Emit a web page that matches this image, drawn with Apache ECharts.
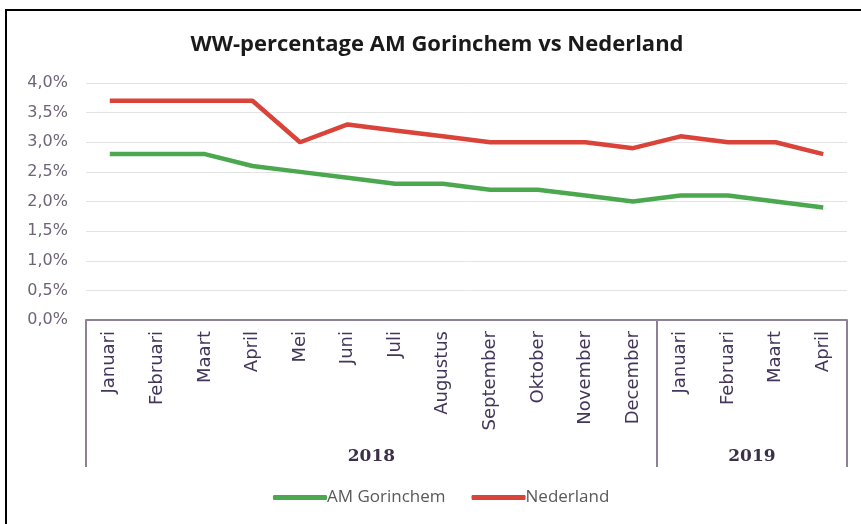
<!DOCTYPE html>
<html>
<head>
<meta charset="utf-8">
<script src="https://cdn.jsdelivr.net/npm/echarts@6/dist/echarts.min.js"></script>
<style>
  html, body { margin: 0; padding: 0; background: #fff; }
  #chart { width: 861px; height: 524px; }
</style>
</head>
<body>
<div id="chart"></div>
<script>
const months = ['Januari', 'Februari', 'Maart', 'April', 'Mei', 'Juni', 'Juli', 'Augustus',
    'September', 'Oktober', 'November', 'December', 'Januari', 'Februari', 'Maart', 'April'];
const years = ['2018', '2019'];
const yearSpans = [12, 4];
const gorinchem = [2.8, 2.8, 2.8, 2.6, 2.5, 2.4, 2.3, 2.3, 2.2, 2.2, 2.1, 2.0, 2.1, 2.1, 2.0, 1.9];
const nederland = [3.7, 3.7, 3.7, 3.7, 3.0, 3.3, 3.2, 3.1, 3.0, 3.0, 3.0, 2.9, 3.1, 3.0, 3.0, 2.8];

// year group boundaries and centres on a 0..16 value scale
const yearEdges = [0], yearCenters = [];
yearSpans.forEach((n, i) => {
    yearCenters.push(yearEdges[i] + n / 2);
    yearEdges.push(yearEdges[i] + n);
});

const chart = echarts.init(document.getElementById('chart'));
const axisGray = '#8c8294';

chart.setOption({
    animation: false,
    title: {
        text: 'WW-percentage AM Gorinchem vs Nederland',
        left: 432,
        textAlign: 'center',
        top: 29,
        textStyle: { fontFamily: 'Open Sans', fontWeight: 'bold', fontSize: 22, color: '#1a1a1a' }
    },
    graphic: [{
        type: 'rect',
        shape: { x: 6, y: 10, width: 900, height: 600 },
        style: { fill: 'none', stroke: '#000', lineWidth: 2 },
        silent: true
    }],
    legend: {
        bottom: 13,
        left: 268,
        itemWidth: 54,
        itemHeight: 5,
        itemGap: 26,
        icon: 'roundRect',
        textStyle: { fontFamily: 'Open Sans', fontSize: 17, color: '#595959', padding: [0, 0, 0, -5] },
        data: ['AM Gorinchem', 'Nederland']
    },
    grid: { left: 86, right: 14, top: 83, bottom: 204, containLabel: false },
    xAxis: [{
        type: 'category',
        data: months,
        boundaryGap: true,
        axisLine: { lineStyle: { color: axisGray, width: 2 } },
        axisTick: { show: false },
        axisLabel: {
            interval: 0,
            rotate: 90,
            margin: 11,
            fontFamily: 'DejaVu Sans',
            fontSize: 18,
            color: '#43365a'
        }
    }, {
        type: 'value',
        min: 0,
        max: 16,
        position: 'bottom',
        axisLine: { show: false },
        splitLine: { show: false },
        axisTick: {
            show: true,
            customValues: yearEdges,
            length: 147,
            lineStyle: { color: axisGray, width: 2 }
        },
        axisLabel: {
            customValues: yearCenters,
            formatter: v => years[yearCenters.indexOf(v)],
            margin: 128,
            fontFamily: 'DejaVu Serif',
            fontWeight: 'bold',
            fontSize: 17,
            color: '#3b2f4a'
        }
    }],
    yAxis: {
        type: 'value',
        min: 0,
        max: 4,
        interval: 0.5,
        axisLine: { show: false },
        axisTick: { show: false },
        splitLine: { lineStyle: { color: '#e3e3e3', width: 1 } },
        axisLabel: {
            margin: 18,
            fontFamily: 'DejaVu Sans',
            fontSize: 16,
            color: '#6e6478',
            formatter: v => v.toFixed(1).replace('.', ',') + '%'
        }
    },
    series: [{
        name: 'AM Gorinchem',
        type: 'line',
        data: gorinchem,
        showSymbol: false,
        itemStyle: { color: '#4ca84f' },
        lineStyle: { color: '#4ca84f', width: 4.5 }
    }, {
        name: 'Nederland',
        type: 'line',
        data: nederland,
        showSymbol: false,
        itemStyle: { color: '#d9433a' },
        lineStyle: { color: '#d9433a', width: 4.5 }
    }]
});
</script>
</body>
</html>
